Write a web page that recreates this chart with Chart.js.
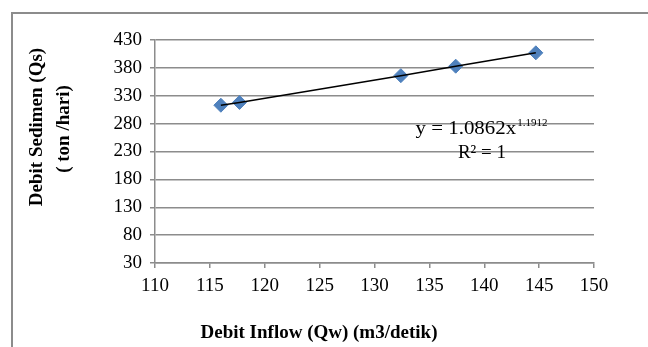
<!DOCTYPE html>
<html>
<head>
<meta charset="utf-8">
<script src="https://cdn.jsdelivr.net/npm/chart.js@4.4.1/dist/chart.umd.min.js"></script>
<style>
  html, body { margin: 0; padding: 0; background: #fff; }
  #wrap { position: relative; width: 648px; height: 347px; }
</style>
</head>
<body>
<div id="wrap"><canvas id="sedimenChart" width="648" height="347"></canvas></div>
<script>
// Data: debit inflow vs debit sedimen
const debitInflow = [116, 117.7, 132.4, 137.4, 144.7];
const debitSedimen = [313, 318, 366, 383, 407];

// Tick labels
const xTickValues = [110, 115, 120, 125, 130, 135, 140, 145, 150];
const yTickValues = [30, 80, 130, 180, 230, 280, 330, 380, 430];

// Texts
const xTitle = "Debit Inflow (Qw) (m3/detik)";
const yTitle = ["Debit Sedimen (Qs)", "( ton /hari)"];
const trendEquation = "y = 1.0862x";
const trendExponent = "1.1912";
const trendR2 = "R² = 1";

const gridGray = "#8c8c8c";

// Bingkai, judul sumbu dan persamaan trendline
const decorPlugin = {
  id: "decor",
  beforeDraw(chart) {
    const ctx = chart.ctx;
    ctx.save();
    ctx.fillStyle = "#fff";
    ctx.fillRect(0, 0, chart.width, chart.height);
    ctx.strokeStyle = gridGray;
    ctx.lineWidth = 2;
    ctx.strokeRect(12, 13, chart.width + 40, chart.height + 40);
    ctx.restore();
  },
  afterDraw(chart) {
    const ctx = chart.ctx;
    const xs = chart.scales.x;
    const ys = chart.scales.y;
    ctx.save();
    ctx.fillStyle = "#000";
    ctx.textAlign = "center";
    ctx.textBaseline = "middle";

    // judul sumbu
    ctx.font = 'bold 19px "Liberation Serif"';
    ctx.fillText(xTitle, 319, 333);
    ctx.save();
    ctx.translate(37, 127);
    ctx.rotate(-Math.PI / 2);
    ctx.fillText(yTitle[0], 0, 0);
    ctx.restore();
    ctx.save();
    ctx.translate(64, 129);
    ctx.rotate(-Math.PI / 2);
    ctx.fillText(yTitle[1], 0, 0);
    ctx.restore();

    // persamaan trendline
    const cx = xs.getPixelForValue(139.7);
    const cy = ys.getPixelForValue(271);
    ctx.font = '19px "Liberation Serif"';
    const w1 = ctx.measureText(trendEquation).width * 1.1;
    ctx.font = '11px "Liberation Serif"';
    const w2 = ctx.measureText(trendExponent).width;
    const start = cx - (w1 + w2) / 2;
    ctx.textAlign = "left";
    ctx.save();
    ctx.translate(start, cy);
    ctx.scale(1.1, 1);
    ctx.font = '19px "Liberation Serif"';
    ctx.fillText(trendEquation, 0, 0);
    ctx.restore();
    ctx.font = '11px "Liberation Serif"';
    ctx.fillText(trendExponent, start + w1 + 1, cy - 6);

    ctx.textAlign = "center";
    ctx.font = '19px "Liberation Serif"';
    ctx.fillText(trendR2, cx + 1, ys.getPixelForValue(228));
    ctx.restore();
  }
};

const points = debitInflow.map((v, i) => ({ x: v, y: debitSedimen[i] }));

new Chart(document.getElementById("sedimenChart").getContext("2d"), {
  type: "scatter",
  data: {
    datasets: [
      {
        label: "Trendline",
        type: "line",
        data: points,
        borderColor: "#000",
        borderWidth: 1.5,
        pointRadius: 0,
        fill: false,
        tension: 0,
        order: 0,
      },
      {
        label: "Debit Sedimen",
        data: points,
        pointStyle: "rectRot",
        pointRadius: 7,
        backgroundColor: "#4f81bd",
        borderColor: "#4f81bd",
        borderWidth: 1,
        order: 1,
      },
    ],
  },
  options: {
    responsive: false,
    animation: false,
    devicePixelRatio: 1,
    layout: {
      padding: { left: 0, top: 40, right: 54, bottom: 0 },
    },
    plugins: {
      legend: { display: false },
      tooltip: { enabled: false },
    },
    scales: {
      x: {
        type: "linear",
        min: 110,
        max: 150,
        afterBuildTicks: (scale) => {
          scale.ticks = xTickValues.map((v) => ({ value: v }));
        },
        afterFit: (scale) => {
          scale.height = 84;
        },
        grid: {
          drawOnChartArea: false,
          drawTicks: true,
          tickLength: 5,
          color: gridGray,
          lineWidth: 1.5,
        },
        border: { color: gridGray, width: 1.5 },
        ticks: {
          padding: 7,
          color: "#000",
          font: { family: "Liberation Serif", size: 19 },
        },
      },
      y: {
        min: 30,
        max: 430,
        afterBuildTicks: (scale) => {
          scale.ticks = yTickValues.map((v) => ({ value: v }));
        },
        afterFit: (scale) => {
          scale.width = 155;
        },
        grid: {
          drawTicks: true,
          tickLength: 5,
          color: gridGray,
          lineWidth: 1.5,
        },
        border: { color: gridGray, width: 1.5 },
        ticks: {
          padding: 8,
          color: "#000",
          font: { family: "Liberation Serif", size: 19 },
        },
      },
    },
  },
  plugins: [decorPlugin],
});
</script>
</body>
</html>
